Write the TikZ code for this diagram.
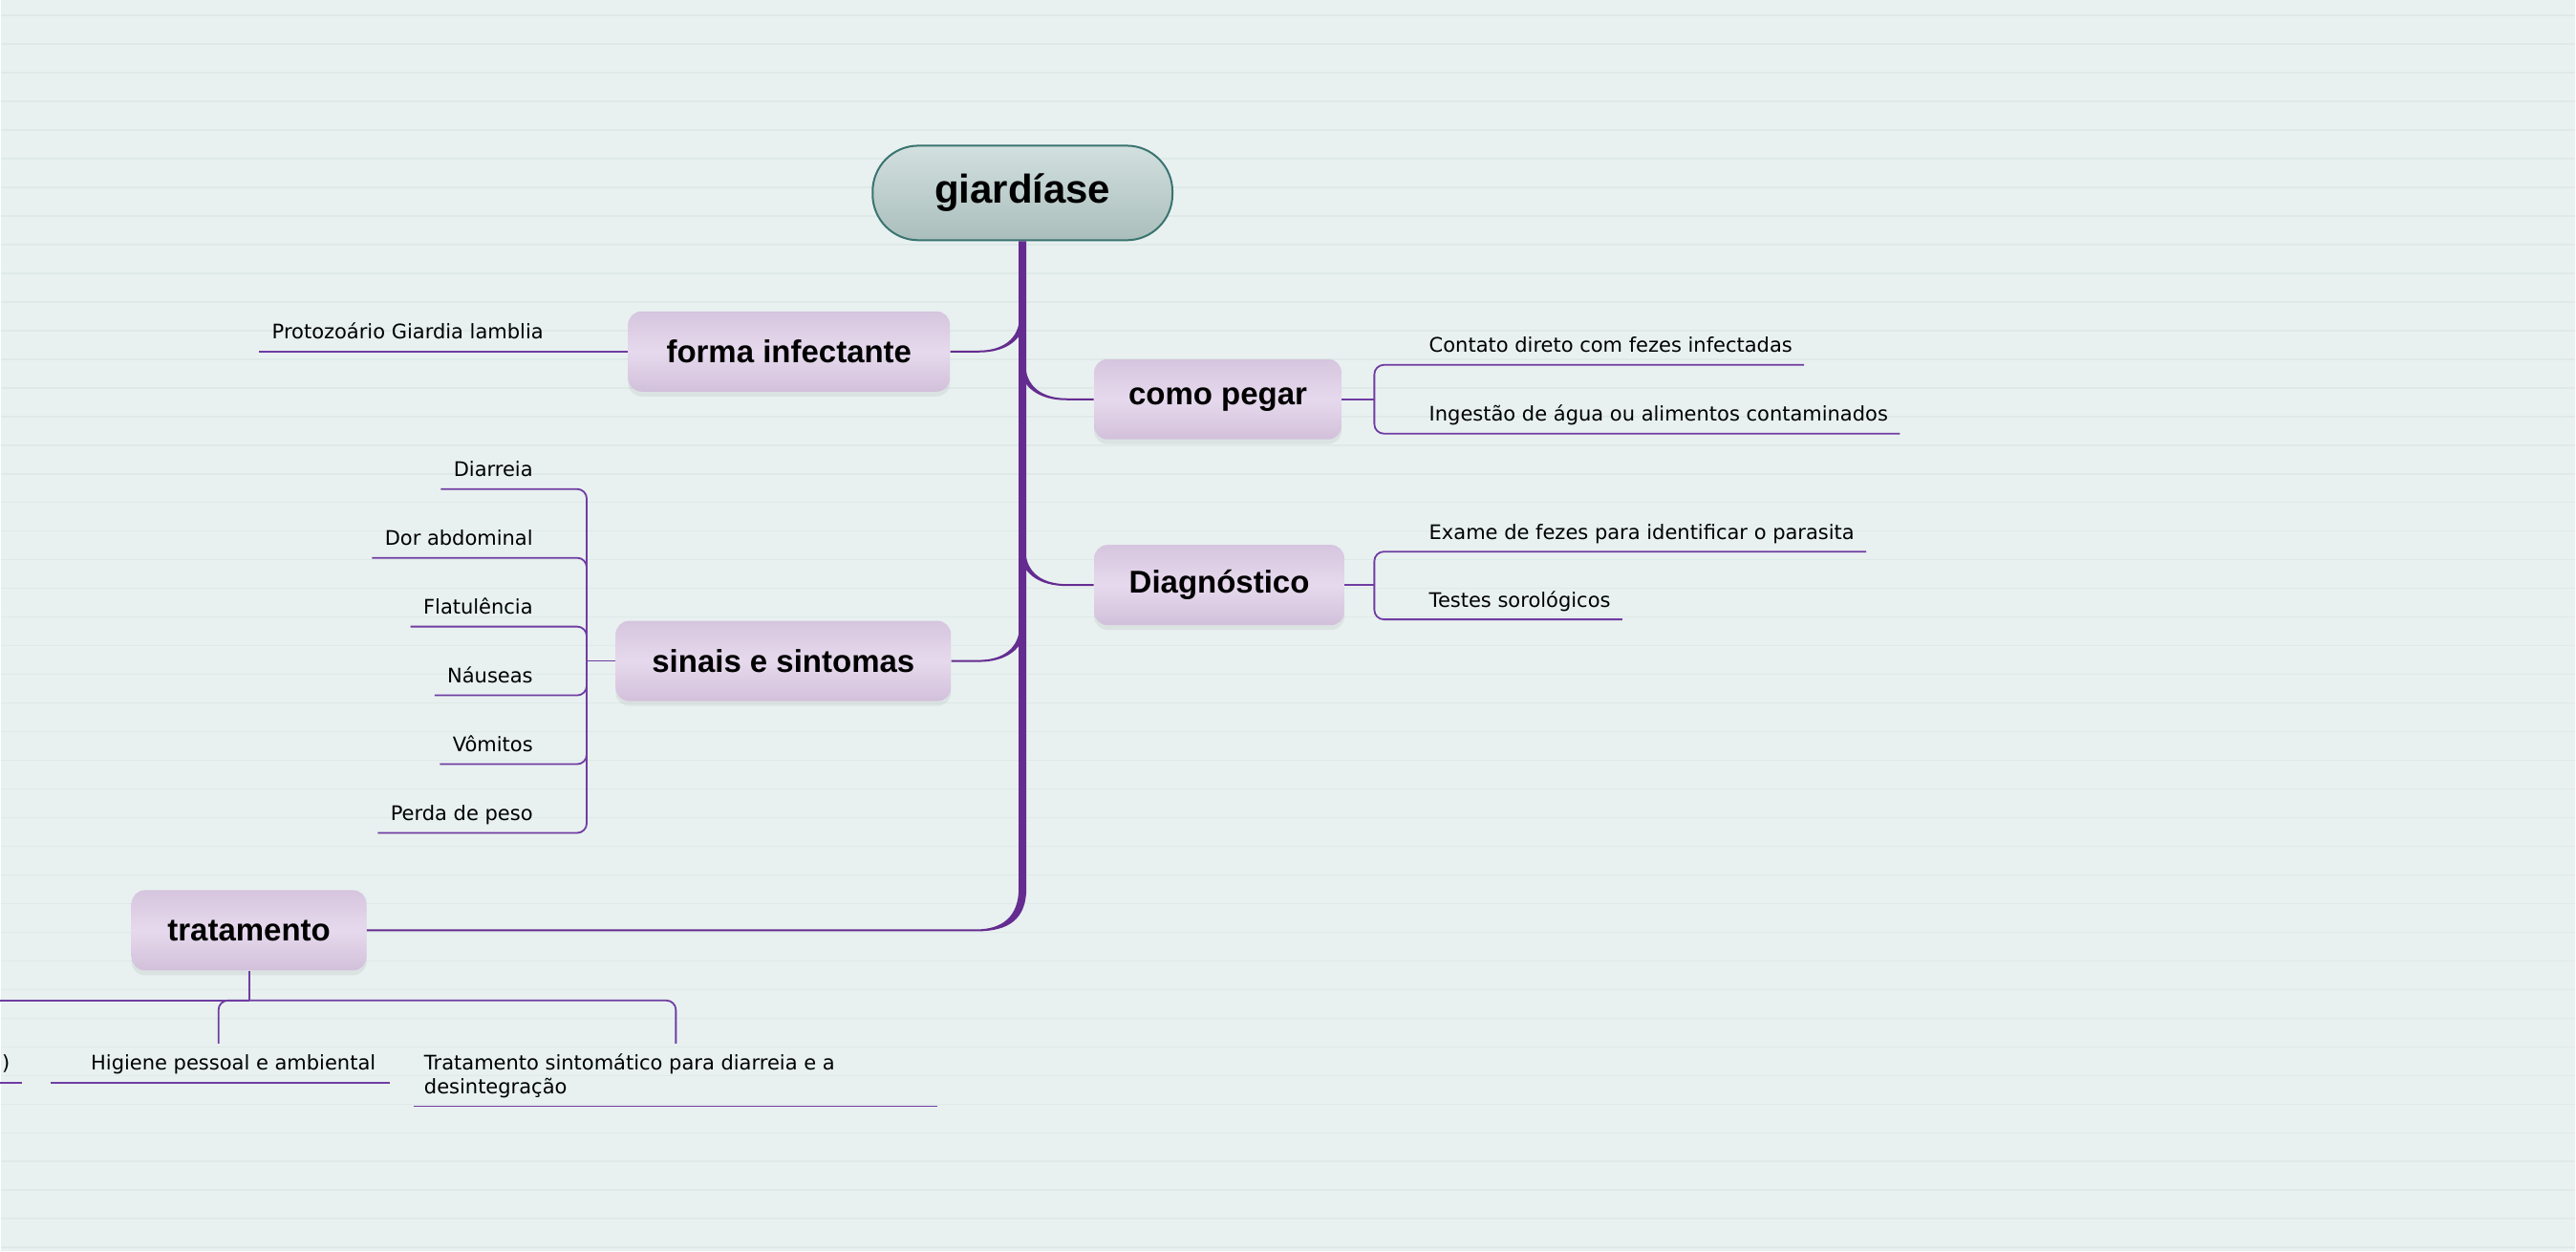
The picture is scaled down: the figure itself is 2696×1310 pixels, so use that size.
\documentclass[tikz,border=0pt]{standalone}
\usepackage{fontspec}
\usepackage{tikz}
\usetikzlibrary{positioning, calc, shadows}
\newfontfamily\leaffont{DejaVu Sans}
\newfontfamily\titlefont{Liberation Sans}

\definecolor{bgc}{RGB}{232,241,240}
\definecolor{gridc}{RGB}{222,233,232}
\definecolor{trunkc}{RGB}{101,44,144}
\definecolor{twigc}{RGB}{112,60,162}
\definecolor{rootline}{RGB}{58,116,112}
\definecolor{rootA}{RGB}{210,224,223}
\definecolor{rootB}{RGB}{170,190,188}
\definecolor{boxA}{RGB}{214,197,222}
\definecolor{boxB}{RGB}{230,217,237}
\definecolor{boxC}{RGB}{210,192,218}

\begin{document}
\begin{tikzpicture}[
    x=0.5pt, y=-0.5pt,
    root/.style={draw=rootline, line width=1pt, rounded corners=24pt, top color=rootA, bottom color=rootB, minimum width=157pt, minimum height=49.5pt, inner sep=0pt, font=\titlefont\bfseries\fontsize{21}{25}\selectfont},
    topic/.style={rounded corners=7pt, top color=boxA, bottom color=boxC, middle color=boxB, minimum height=42pt, inner sep=0pt, drop shadow={shadow xshift=0pt, shadow yshift=-2.5pt, opacity=0.12}, font=\titlefont\bfseries\fontsize{16.5}{20}\selectfont},
    leaf/.style={inner sep=0pt, font=\leaffont\fontsize{10.5}{12.5}\selectfont},
    twig/.style={draw=twigc, line width=0.9pt},
    corner/.style={twig, rounded corners=5pt},
    trunk/.style={fill=trunkc},
    gridline/.style={draw=gridc, line width=0.8pt}
]
% Background
\fill[bgc] (0,0) rectangle (2696,1310);
\foreach \k in {0,...,43}
    \draw[gridline] (0,{16+30*\k}) -- (2696,{16+30*\k});
\useasboundingbox (0,0) rectangle (2696,1310);

% Central topic and main branches
\node[root] (root) at (1070,202) {giardíase};
\node[topic, minimum width=168.5pt] (fi) at (825.5,368) {forma infectante};
\node[topic, minimum width=129.5pt] (cp) at (1274.5,418) {como pegar};
\node[topic, minimum width=131pt] (dg) at (1276,612.5) {Diagnóstico};
\node[topic, minimum width=175.5pt] (ss) at (819.5,692) {sinais e sintomas};
\node[topic, minimum width=123pt] (tr) at (260,974) {tratamento};

% Trunk down to tratamento
\coordinate (tk) at (root.south |- tr.east);
\fill[trunk] ($(root.south)+(-4,0)$) -- ($(tk)+(-4,-44)$) .. controls ($(tk)+(-4,-14)$) and ($(tk)+(-22,-1)$) .. ($(tk)+(-48,-1)$) -- ($(tr.east)+(0,-1)$) -- ($(tr.east)+(0,1)$) -- ($(tk)+(-48,1)$) .. controls ($(tk)+(-14,1)$) and ($(tk)+(4,-12)$) .. ($(tk)+(4,-44)$) -- ($(root.south)+(4,0)$) -- cycle;

% Tapered branches
\foreach \b/\a/\s in {fi/east/-1, cp/west/1, dg/west/1, ss/east/-1}{
    \coordinate (J) at (root.south |- \b.\a);
    \fill[trunk] ($(J)+({3*\s},-38)$) .. controls ($(J)+({3*\s},-12)$) and ($(J)+({22*\s},-1)$) .. ($(J)+({46*\s},-1)$) -- ($(\b.\a)+(0,-1)$) -- ($(\b.\a)+(0,1)$) -- ($(J)+({46*\s},1)$) .. controls ($(J)+({18*\s},1)$) and ($(J)+({-3*\s},-12)$) .. ($(J)+({-3*\s},-38)$) -- cycle;
}

% forma infectante
\node[leaf, anchor=base east] (fi1) at ($(fi.west)+(-88,-13)$) {Protozoário Giardia lamblia};
\draw[twig] (fi.west) -- ($(fi1.base west)+(-13,13)$);

% como pegar
\coordinate (cpj) at ($(cp.east)+(34,0)$);
\draw[twig] (cp.east) -- (cpj);
\node[leaf, anchor=base west] (cp1) at ($(cpj)+(57,-49)$) {Contato direto com fezes infectadas};
\node[leaf, anchor=base west] (cp2) at ($(cpj)+(57,23)$) {Ingestão de água ou alimentos contaminados};
\draw[corner] (cpj) |- ($(cp1.base east)+(12,13)$);
\draw[corner] (cpj) |- ($(cp2.base east)+(12,13)$);

% Diagnostico
\coordinate (dgj) at ($(dg.east)+(31,0)$);
\draw[twig] (dg.east) -- (dgj);
\node[leaf, anchor=base west] (dg1) at ($(dgj)+(57,-48)$) {Exame de fezes para identificar o parasita};
\node[leaf, anchor=base west] (dg2) at ($(dgj)+(57,23)$) {Testes sorológicos};
\draw[corner] (dgj) |- ($(dg1.base east)+(12,13)$);
\draw[corner] (dgj) |- ($(dg2.base east)+(12,13)$);

% sinais e sintomas
\coordinate (ssj) at ($(ss.west)+(-30,0)$);
\draw[twig] (ss.west) -- (ssj);
\foreach \t/\o [count=\i] in {Diarreia/-180, Dor abdominal/-108, Flatulência/-36, Náuseas/36, Vômitos/108, Perda de peso/180}{
    \node[leaf, anchor=base east] (ss\i) at ($(ssj)+(-56,\o-13)$) {\t};
    \draw[corner] (ssj) |- ($(ss\i.base west)+(-13,13)$);
}

% tratamento
\coordinate (trj) at ($(tr.south)+(0,31)$);
\coordinate (trL) at ($(trj)+(-270,0)$);
\coordinate (th2) at ($(trj)+(-32,45)$);
\coordinate (th3) at ($(trj)+(447,45)$);
\draw[twig] (tr.south) -- (trj);
\draw[twig] (trj) -- (trL);
\draw[corner] (trj) -| (th2);
\draw[corner] (trj) -| (th3);
\node[leaf, anchor=base east] (med) at ($(trj)+(-250,73)$) {)};
\draw[twig] ($(med.base east)+(-30,13)$) -- ($(med.base east)+(12,13)$);
\node[leaf, anchor=base west] (hig) at ($(th2)+(-134,28)$) {Higiene pessoal e ambiental};
\draw[twig] ($(hig.base west)+(-42,13)$) -- ($(hig.base east)+(14,13)$);
\node[leaf, anchor=base west, align=left] (sint) at ($(th3)+(-264,53)$) {Tratamento sintomático para diarreia e a\\desintegração};
\draw[twig] ($(sint.south west)+(-11,8)$) -- ($(sint.south west)+(538,8)$);

\end{tikzpicture}
\end{document}
